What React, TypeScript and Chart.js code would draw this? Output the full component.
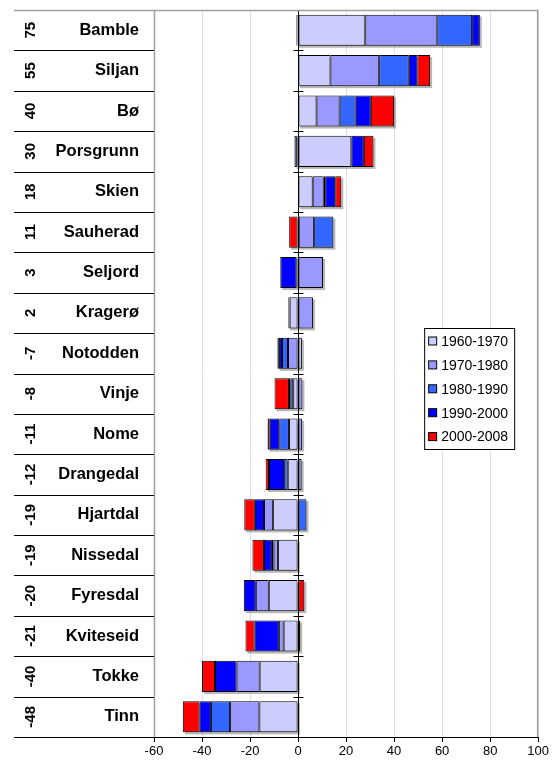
import React, { useEffect, useRef } from 'react';
import { Chart, registerables } from 'chart.js';
Chart.register(...registerables);

const municipalities = ['Bamble', 'Siljan', 'Bø', 'Porsgrunn', 'Skien', 'Sauherad', 'Seljord', 'Kragerø', 'Notodden', 'Vinje', 'Nome', 'Drangedal', 'Hjartdal', 'Nissedal', 'Fyresdal', 'Kviteseid', 'Tokke', 'Tinn'];
const totals = [75, 55, 40, 30, 18, 11, 3, 2, -7, -8, -11, -12, -19, -19, -20, -21, -40, -48];
const periods = ['1960-1970', '1970-1980', '1980-1990', '1990-2000', '2000-2008'];
const v1960 = [28, 13.5, 7.7, 22.2, 6.1, 0.3, 0, -3.5, 1.6, -2.0, -3.8, -4.3, -10.5, -8.4, -12.2, -6.0, -16.0, -16.1];
const v1970 = [30, 20.3, 9.6, -0.5, 4.6, 6.4, 10.4, 6.2, -4.2, 1.8, 1.7, 1.5, -3.7, -1.8, -5.4, -2.0, -9.6, -12.2];
const v1980 = [14.5, 12.3, 6.7, -1.0, 0.6, 8.0, -0.6, 0, -2.5, -1.2, -4.0, -1.5, 3.5, -0.7, 0, 0.9, 0, -8.0];
const v1990 = [3.2, 3.6, 6.3, 5.2, 4.2, 0, -6.8, -0.5, -1.3, -0.6, -4.0, -6.3, -3.8, -3.3, -5.0, -10.1, -9.0, -4.7];
const v2000 = [-0.7, 5.3, 9.7, 4.0, 2.5, -3.7, 0, -0.2, -0.6, -6.0, -0.9, -1.4, -4.4, -4.8, 2.6, -3.8, -5.4, -7.0];
const colors = ['#CCCCFF', '#9999FF', '#3366FF', '#0000FF', '#FF0000'];
const xTicks = [-60, -40, -20, 0, 20, 40, 60, 80, 100];

const FONT = "'Liberation Sans', Arial, sans-serif";
const BAR_PCT = 0.77;

export default function App() {
  const ref = useRef<HTMLCanvasElement>(null);
  useEffect(() => {
    const series = [v1960, v1970, v1980, v1990, v2000];
    const tablePlugin = {
      id: 'tablePlugin',
      beforeDatasetsDraw(chart: any) {
        const ctx = chart.ctx;
        const x = chart.scales.x;
        const y = chart.scales.y;
        const n = municipalities.length;
        const rowH = (chart.chartArea.bottom - chart.chartArea.top) / n;
        const th = rowH * BAR_PCT;
        ctx.save();
        ctx.fillStyle = 'rgba(0,0,0,0.28)';
        for (let i = 0; i < n; i++) {
          let pos = 0, neg = 0;
          series.forEach((s) => { if (s[i] > 0) pos += s[i]; else neg += s[i]; });
          const l = x.getPixelForValue(neg);
          const r = x.getPixelForValue(pos);
          const yc = y.getPixelForValue(i);
          ctx.fillRect(l + 2, yc - th / 2 + 2, r - l, th);
        }
        ctx.restore();
      },
      afterDatasetsDraw(chart: any) {
        const ctx = chart.ctx;
        const ca = chart.chartArea;
        const x = chart.scales.x;
        const y = chart.scales.y;
        const n = municipalities.length;
        const rowH = (ca.bottom - ca.top) / n;
        const x0 = Math.round(x.getPixelForValue(0)) + 0.5;
        ctx.save();
        // zero axis with tick marks
        ctx.strokeStyle = '#000';
        ctx.lineWidth = 1;
        ctx.beginPath();
        ctx.moveTo(x0, ca.top);
        ctx.lineTo(x0, ca.bottom);
        for (let k = 0; k <= n; k++) {
          const yy = Math.round(ca.top + k * rowH) + 0.5;
          ctx.moveTo(x0 - 5, yy);
          ctx.lineTo(x0 + 5, yy);
        }
        ctx.stroke();
        // frame
        ctx.strokeStyle = '#A0A0A0';
        ctx.lineWidth = 1.5;
        ctx.beginPath();
        ctx.moveTo(6, ca.top + 0.5);
        ctx.lineTo(ca.right, ca.top + 0.5);
        ctx.moveTo(ca.right - 0.5, ca.top);
        ctx.lineTo(ca.right - 0.5, ca.bottom);
        ctx.moveTo(ca.left + 0.5, ca.top);
        ctx.lineTo(ca.left + 0.5, ca.bottom);
        ctx.stroke();
        // table lines
        ctx.strokeStyle = '#000';
        ctx.lineWidth = 1;
        ctx.beginPath();
        for (let k = 1; k <= n; k++) {
          const yy = Math.round(ca.top + k * rowH) + 0.5;
          ctx.moveTo(6, yy);
          ctx.lineTo(ca.left, yy);
        }
        ctx.stroke();
        // rotated totals
        ctx.fillStyle = '#000';
        ctx.font = `bold 15px ${FONT}`;
        ctx.textAlign = 'center';
        ctx.textBaseline = 'middle';
        for (let i = 0; i < n; i++) {
          const yc = y.getPixelForValue(i);
          ctx.save();
          ctx.translate(23, yc);
          ctx.rotate(-Math.PI / 2);
          ctx.fillText(String(totals[i]), 0, 0);
          ctx.restore();
        }
        // legend
        const lx = ca.right - 114;
        const ly = ca.top + 318;
        const lw = 90;
        const lh = 121;
        ctx.fillStyle = '#fff';
        ctx.fillRect(lx, ly, lw, lh);
        ctx.strokeStyle = '#000';
        ctx.lineWidth = 1;
        ctx.strokeRect(lx + 0.5, ly + 0.5, lw, lh);
        ctx.font = `14px ${FONT}`;
        ctx.textAlign = 'left';
        ctx.textBaseline = 'middle';
        for (let i = 0; i < periods.length; i++) {
          const cy = ly + 13.5 + i * 23.9;
          ctx.fillStyle = colors[i];
          ctx.fillRect(lx + 4.5, cy - 4.5, 8, 8);
          ctx.strokeStyle = '#000';
          ctx.strokeRect(lx + 4.5, cy - 4.5, 8, 8);
          ctx.fillStyle = '#000';
          ctx.fillText(periods[i], lx + 17, cy + 0.5);
        }
        ctx.restore();
      },
    };

    const chart = new Chart(ref.current as HTMLCanvasElement, {
      type: 'bar',
      data: {
        labels: municipalities,
        datasets: series.map((d, i) => ({
          label: periods[i],
          data: d,
          backgroundColor: colors[i],
          borderColor: '#000',
          borderWidth: 1,
          borderSkipped: false,
          barPercentage: BAR_PCT,
          categoryPercentage: 1,
        })),
      },
      options: {
        indexAxis: 'y',
        responsive: false,
        animation: false,
        devicePixelRatio: 1,
        layout: { padding: { top: 2, right: 10, left: 0, bottom: 0 } },
        plugins: { legend: { display: false }, tooltip: { enabled: false } },
        scales: {
          x: {
            type: 'linear',
            stacked: true,
            min: -60,
            max: 100,
            afterBuildTicks: (s: any) => { s.ticks = xTicks.map((v) => ({ value: v })); },
            grid: { color: '#DCDCF5', tickColor: '#000', tickLength: 5, drawTicks: true },
            border: { color: '#000', width: 1 },
            ticks: { font: { family: FONT, size: 13 }, color: '#000', padding: 2, maxRotation: 0, autoSkip: false },
            afterFit: (s: any) => { s.height = 20; },
          },
          y: {
            type: 'category',
            stacked: true,
            grid: { display: true, drawOnChartArea: false, drawTicks: true, tickLength: 15, color: 'rgba(0,0,0,0)' },
            border: { display: false },
            ticks: { font: { family: FONT, size: 16.5, weight: 'bold', lineHeight: 0.2 }, color: '#000', padding: 0, autoSkip: false },
            afterFit: (s: any) => { s.width = 146; },
          },
        },
      } as any,
      plugins: [tablePlugin],
    });
    return () => chart.destroy();
  }, []);
  return <canvas ref={ref} width={543} height={749} style={{ display: 'block' }} />;
}
